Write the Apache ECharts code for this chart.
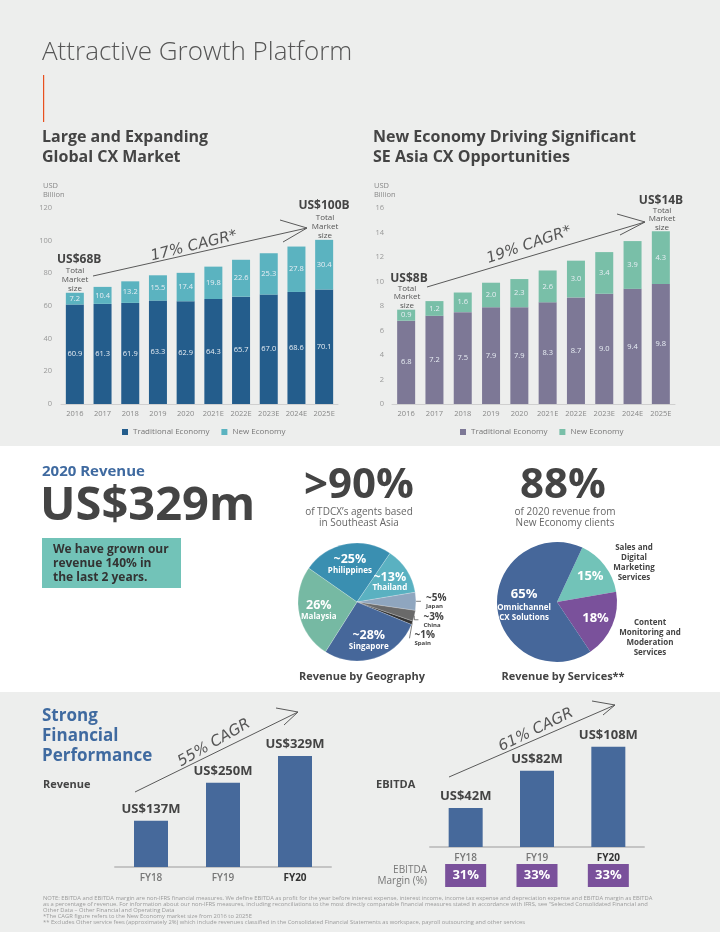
<!DOCTYPE html>
<html><head><meta charset="utf-8">
<script src="https://cdn.jsdelivr.net/npm/echarts@6/dist/echarts.min.js"></script>
<style>html,body{margin:0;padding:0;background:#edeeed}#c{width:720px;height:932px}</style>
</head><body><div id="c"></div>
<script>
// ---------- data ----------
const years = ['2016','2017','2018','2019','2020','2021E','2022E','2023E','2024E','2025E'];
const globalTraditional = [60.9,61.3,61.9,63.3,62.9,64.3,65.7,67.0,68.6,70.1];
const globalNew = [7.2,10.4,13.2,15.5,17.4,19.8,22.6,25.3,27.8,30.4];
const seaTraditional = [6.8,7.2,7.5,7.9,7.9,8.3,8.7,9.0,9.4,9.8];
const seaNew = [0.9,1.2,1.6,2.0,2.3,2.6,3.0,3.4,3.9,4.3];
const globalAxis = {min:0, max:120, interval:20};
const seaAxis = {min:0, max:16, interval:2};
const legendNames = ['Traditional Economy','New Economy'];
const geoNames = ['Philippines','Thailand','Japan','China','Spain','Singapore','Malaysia'];
const geoValues = [25,13,5,3,1,28,26];
const geoLabels = ['~25%','~13%','~5%','~3%','~1%','~28%','26%'];
const serviceNames = ['Sales and Digital Marketing Services','Content Monitoring and Moderation Services','Omnichannel CX Solutions'];
const serviceShort = ['','','Omnichannel\nCX Solutions'];
const serviceValues = [15,18,65];
const fiscalYears = ['FY18','FY19','FY20'];
const revenue = [137,250,329];
const ebitda = [42,82,108];
const ebitdaMargin = [31,33,33];

// ---------- styles ----------
const F = '"Open Sans", "Noto Sans", sans-serif';
const HAND = '"DejaVu Sans", sans-serif';
const C = {
  gTrad:'#245d8c', gNew:'#5bb3c0', sTrad:'#7d7896', sNew:'#79bfa8',
  blue:'#46699b', purple:'#7a519b', teal:'#72c3b8', dark:'#444', grey:'#888'
};
const GEO_C = [357,602], SRV_C = [557,602];

function T(text, x, y, o) {
  o = o || {};
  return {type:'text', x:x, y:y, rotation:o.rot||0, z:o.z||10, silent:true,
    style:{text:text, fill:o.color||C.dark, fontSize:o.size||10, fontWeight:o.weight||'normal',
      fontStyle:o.style||'normal', fontFamily:o.family||F, align:o.align||'left',
      verticalAlign:o.va||'middle', lineHeight:o.lh}};
}
function PL(points) {
  return {type:'polyline', z:10, silent:true, shape:{points:points}, style:{stroke:'#5a5a5a', lineWidth:1, fill:null}};
}
const deg = Math.PI/180;
// push an inside pie label radially outward by factor k
function pushOut(center, k, p) {
  const r = p.labelRect;
  const lx = r.x + r.width/2, ly = r.y + r.height/2;
  return {dx:(lx-center[0])*(k-1), dy:(ly-center[1])*(k-1), hideOverlap:false};
}

const footnote = [
 'NOTE: EBITDA and EBITDA margin are non-IFRS financial measures. We define EBITDA as profit for the year before interest expense, interest income, income tax expense and depreciation expense and EBITDA margin as EBITDA',
 'as a percentage of revenue. For information about our non-IFRS measures, including reconciliations to the most directly comparable financial measures stated in accordance with IFRS, see "Selected Consolidated Financial and',
 'Other Data – Other Financial and Operating Data',
 '*The CAGR figure refers to the New Economy market size from 2016 to 2025E',
 '** Excludes Other service fees (approximately 2%) which include revenues classified in the Consolidated Financial Statements as workspace, payroll outsourcing and other services'
].join('\n');

const graphic = [
  {type:'rect', z:-10, silent:true, shape:{x:0,y:446,width:720,height:246}, style:{fill:'#ffffff'}},
  T('Attractive Growth Platform', 42, 53, {size:26, weight:300, color:'#555'}),
  {type:'rect', z:10, silent:true, shape:{x:43,y:75,width:1.2,height:47}, style:{fill:'#e8501f'}},
  T('Large and Expanding\nGlobal CX Market', 42, 127, {size:16, weight:'bold', va:'top', lh:20}),
  T('New Economy Driving Significant\nSE Asia CX Opportunities', 373, 127, {size:16, weight:'bold', va:'top', lh:20}),
  T('USD\nBillion', 43, 181, {size:7.5, va:'top', lh:9, color:'#888'}),
  T('USD\nBillion', 374, 181, {size:7.5, va:'top', lh:9, color:'#888'}),
  T('US$68B', 57, 260, {size:12, weight:'bold'}),
  T('Total\nMarket\nsize', 75, 266, {size:8, va:'top', lh:9, align:'center', color:'#555'}),
  T('US$100B', 324, 206, {size:12, weight:'bold', align:'center'}),
  T('Total\nMarket\nsize', 325, 213, {size:8, va:'top', lh:9, align:'center', color:'#555'}),
  T('US$8B', 409, 279, {size:12, weight:'bold', align:'center'}),
  T('Total\nMarket\nsize', 407, 284, {size:8, va:'top', lh:8.5, align:'center', color:'#555'}),
  T('US$14B', 661, 201, {size:12, weight:'bold', align:'center'}),
  T('Total\nMarket\nsize', 662, 206, {size:8, va:'top', lh:8.5, align:'center', color:'#555'}),
  PL([[93,276],[307,228]]), PL([[280,220],[307,228],[283,242]]),
  T('17% CAGR*', 194, 246, {size:15, family:HAND, style:'italic', align:'center', rot:14*deg, color:'#555'}),
  PL([[427,287],[645,222]]), PL([[617,214],[645,222],[620,235]]),
  T('19% CAGR*', 529, 245, {size:15, family:HAND, style:'italic', align:'center', rot:19*deg, color:'#555'}),

  T('2020 Revenue', 42, 472, {size:15, weight:'bold', color:'#3f6aa0'}),
  T('US$329m', 40, 507, {size:47, weight:'bold'}),
  {type:'rect', z:5, silent:true, shape:{x:42,y:538,width:139,height:50}, style:{fill:C.teal}},
  T('We have grown our\nrevenue 140% in\nthe last 2 years.', 53, 543, {size:12, weight:'bold', va:'top', lh:14, color:'#333'}),
  T('>90%', 359, 486, {size:42, weight:'bold', align:'center'}),
  T('of TDCX\u2019s agents based\nin Southeast Asia', 359, 507, {size:10, va:'top', lh:11, align:'center', color:'#666'}),
  T('88%', 563, 486, {size:42, weight:'bold', align:'center'}),
  T('of 2020 revenue from\nNew Economy clients', 565, 507, {size:10, va:'top', lh:11, align:'center', color:'#666'}),
  T('Revenue by Geography', 362, 677, {size:11, weight:'bold', align:'center'}),
  T('Revenue by Services**', 563, 677, {size:11, weight:'bold', align:'center'}),
  T('Sales and\nDigital\nMarketing\nServices', 634, 543, {size:8, weight:'bold', va:'top', lh:9.8, align:'center'}),
  T('Content\nMonitoring and\nModeration\nServices', 650, 618, {size:8, weight:'bold', va:'top', lh:9.8, align:'center'}),

  T('Strong\nFinancial\nPerformance', 42, 706, {size:17, weight:'bold', va:'top', lh:20, color:'#3f6aa0'}),
  T('Revenue', 43, 785, {size:11, weight:'bold'}),
  T('EBITDA', 376, 785, {size:11, weight:'bold'}),
  PL([[135,792],[298,712]]), PL([[276,708],[298,712],[284,725]]),
  T('55% CAGR', 214, 743, {size:15, family:HAND, style:'italic', align:'center', rot:30*deg, color:'#555'}),
  PL([[449,777],[615,705]]), PL([[592,701],[615,705],[603,715]]),
  T('61% CAGR', 536, 730, {size:15, family:HAND, style:'italic', align:'center', rot:26*deg, color:'#555'}),
  T(footnote, 43, 895, {size:5.8, va:'top', lh:6, color:'#9a9a9a'})
];

function catX(gi, data) {
  return {type:'category', gridIndex:gi, data:data, axisTick:{show:false},
    axisLine:{lineStyle:{color:'#cfcfcf'}}, axisLabel:{interval:0, fontSize:7.5, color:'#888', margin:6, fontFamily:F}};
}
function valY(gi, a, m) {
  return {type:'value', gridIndex:gi, min:a.min, max:a.max, interval:a.interval, splitLine:{show:false},
    axisLine:{show:false}, axisTick:{show:false}, axisLabel:{fontSize:7.5, color:'#999', margin:m, fontFamily:F}};
}
const barLabel = {show:true, position:'inside', color:'#e8eef4', fontSize:7.5, fontFamily:F,
  formatter:p => p.value.toFixed(1)};
const fyAxis = gi => ({type:'category', gridIndex:gi, data:fiscalYears, axisTick:{show:false},
  axisLine:{lineStyle:{color:'#c4c4c4', width:2}},
  axisLabel:{fontSize:10, color:'#777', margin:6, fontFamily:F, fontWeight:600,
    formatter:(v,i)=> i===fiscalYears.length-1 ? '{b|'+v+'}' : v,
    rich:{b:{fontSize:10, color:'#333', fontWeight:'bold', fontFamily:F}}}});
const hiddenY = (gi,max) => ({type:'value', gridIndex:gi, min:0, max:max, show:false});

const option = {
  animation:false,
  backgroundColor:'#edeeed',
  textStyle:{fontFamily:F},
  graphic:graphic,
  grid:[
    {left:61, top:208, width:277, height:196},
    {left:392, top:208, width:283, height:196},
    {left:115, top:732, width:216, height:135},
    {left:430, top:717, width:214, height:130},
    {left:430, top:864, width:214, height:23}
  ],
  legend:[
    {data:['TE1','NE1'], left:117, top:423, itemWidth:6, itemHeight:6, itemGap:12, icon:'rect',
      formatter:n=>legendNames[n==='TE1'?0:1], textStyle:{fontSize:8, color:'#777', fontFamily:F}},
    {data:['TE2','NE2'], left:455, top:423, itemWidth:6, itemHeight:6, itemGap:12, icon:'rect',
      formatter:n=>legendNames[n==='TE2'?0:1], textStyle:{fontSize:8, color:'#777', fontFamily:F}}
  ],
  xAxis:[catX(0,years), catX(1,years), fyAxis(2), fyAxis(3),
    {type:'category', gridIndex:4, data:fiscalYears, show:false}],
  yAxis:[valY(0,globalAxis,9), valY(1,seaAxis,8), hiddenY(2,400), hiddenY(3,140),
    {type:'category', gridIndex:4, data:['EBITDA\nMargin (%)'], axisLine:{show:false}, axisTick:{show:false},
      axisLabel:{fontSize:10, color:'#777', margin:3, lineHeight:11, align:'right', fontFamily:F}}],
  series:[
    {name:'TE1', type:'bar', stack:'g', xAxisIndex:0, yAxisIndex:0, data:globalTraditional, barWidth:18,
      itemStyle:{color:C.gTrad}, label:barLabel},
    {name:'NE1', type:'bar', stack:'g', xAxisIndex:0, yAxisIndex:0, data:globalNew, barWidth:18,
      itemStyle:{color:C.gNew}, label:barLabel},
    {name:'TE2', type:'bar', stack:'s', xAxisIndex:1, yAxisIndex:1, data:seaTraditional, barWidth:18,
      itemStyle:{color:C.sTrad}, label:barLabel},
    {name:'NE2', type:'bar', stack:'s', xAxisIndex:1, yAxisIndex:1, data:seaNew, barWidth:18,
      itemStyle:{color:C.sNew}, label:barLabel},
    {name:'Geography', type:'pie', center:GEO_C, radius:[0,59], startAngle:145, clockwise:true,
      avoidLabelOverlap:true,
      labelLayout:p => geoValues[p.dataIndex] < 10 ? {hideOverlap:false} : pushOut(GEO_C, 1.2, p),
      color:['#3a8fb1','#5ab1c1','#8fa6bf','#6a6a6a','#333333','#46679a','#76b9a3'],
      itemStyle:{borderColor:'rgba(255,255,255,0.4)', borderWidth:0.5},
      label:{show:true, position:'inside', formatter:p=>'{p|'+geoLabels[p.dataIndex]+'}\n{n|'+p.name+'}',
        rich:{p:{fontSize:12.5, fontWeight:'bold', color:'#fff', fontFamily:F, lineHeight:14},
              n:{fontSize:8, fontWeight:'bold', color:'#fff', fontFamily:F}}},
      labelLine:{show:false},
      data:geoNames.map((n,i)=>{
        const small = geoValues[i] < 10;
        const d = {name:n, value:geoValues[i]};
        if (small) {
          d.label = {position:'outside', rich:{p:{fontSize:10, fontWeight:'bold', color:'#444', fontFamily:F, lineHeight:11},
            n:{fontSize:6, fontWeight:'bold', color:'#444', fontFamily:F}}};
          d.labelLine = {show:true, length:4, length2:6, lineStyle:{color:'#444', width:0.7}};
        }
        return d;
      })},
    {name:'Services', type:'pie', center:SRV_C, radius:[0,60], startAngle:65, clockwise:true,
      avoidLabelOverlap:false,
      labelLayout:p => pushOut(SRV_C, serviceShort[p.dataIndex] ? 1.0 : 1.27, p),
      color:[C.teal, C.purple, '#46679a'],
      label:{show:true, position:'inside', formatter:p=>'{p|'+p.value+'%}'+(serviceShort[p.dataIndex]?'\n{n|'+serviceShort[p.dataIndex]+'}':''),
        rich:{p:{fontSize:13, fontWeight:'bold', color:'#fff', fontFamily:F, lineHeight:16},
              n:{fontSize:8, fontWeight:'bold', color:'#fff', fontFamily:F, lineHeight:10}}},
      labelLine:{show:false},
      data:serviceNames.map((n,i)=>({name:n, value:serviceValues[i]}))},
    {name:'Revenue', type:'bar', xAxisIndex:2, yAxisIndex:2, data:revenue, barWidth:34,
      itemStyle:{color:C.blue},
      label:{show:true, position:'top', distance:5, formatter:p=>'US$'+p.value+'M', fontSize:13, fontWeight:'bold', color:'#444', fontFamily:F}},
    {name:'EBITDA', type:'bar', xAxisIndex:3, yAxisIndex:3, data:ebitda, barWidth:34,
      itemStyle:{color:C.blue},
      label:{show:true, position:'top', distance:5, formatter:p=>'US$'+p.value+'M', fontSize:13, fontWeight:'bold', color:'#444', fontFamily:F}},
    {name:'Margin', type:'scatter', xAxisIndex:4, yAxisIndex:4, symbol:'rect', symbolSize:[41,23],
      itemStyle:{color:C.purple, opacity:1},
      label:{show:true, position:'inside', formatter:p=>p.value[2]+'%', fontSize:13, fontWeight:'bold', color:'#fff', fontFamily:F},
      data:fiscalYears.map((fy,i)=>[fy, 'EBITDA\nMargin (%)', ebitdaMargin[i]])}
  ]
};
const chart = echarts.init(document.getElementById('c'), null, {renderer:'canvas'});
chart.setOption(option);
</script></body></html>
